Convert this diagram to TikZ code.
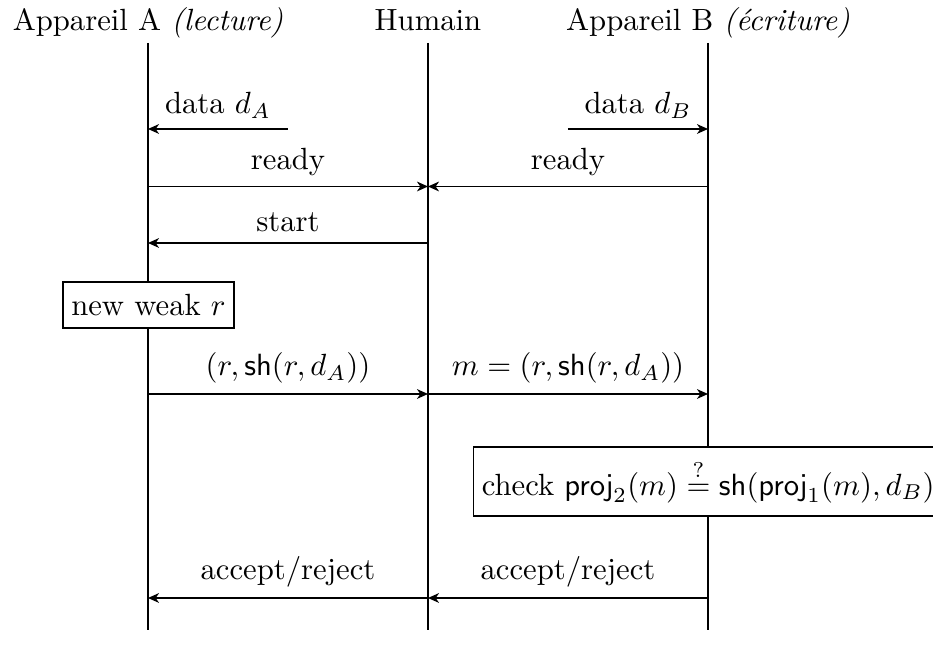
\documentclass[tikz,border=0pt]{standalone}
\usetikzlibrary{arrows.meta}
\begin{document}
\begin{tikzpicture}[x=0.326pt,y=-0.326pt,
  msg/.style={-{Stealth[length=3.6pt,width=3.2pt,inset=1.1pt]}},
  lbl/.style={above=0pt},
  actbox/.style={draw,fill=white,inner xsep=2.7pt},
  head/.style={inner sep=0pt,anchor=base}]
\useasboundingbox (0,0) rectangle (933,646);
% headers
\node[head] (hA) at (148,31) {Appareil A \textit{(lecture)}};
\node[head] (hH) at (428,31) {Humain};
\node[head] (hB) at (708,31) {Appareil B \textit{(\'ecriture)}};
% lifelines
\coordinate (A0) at (148,43); \coordinate (A1) at (148,630);
\coordinate (H0) at (428,43); \coordinate (H1) at (428,630);
\coordinate (B0) at (708,43); \coordinate (B1) at (708,630);
\draw (A0) -- (A1);
\draw (H0) -- (H1);
\draw (B0) -- (B1);
% data
\coordinate (dAs) at (288,129); \coordinate (dAe) at (148,129);
\coordinate (dBs) at (568,129); \coordinate (dBe) at (708,129);
\draw[msg] (dAs) -- node[lbl] {data $d_A$} (dAe);
\draw[msg] (dBs) -- node[lbl] {data $d_B$} (dBe);
% ready
\coordinate (Ar) at (148,186.5); \coordinate (Hr) at (428,186.5); \coordinate (Br) at (708,186.5);
\draw[msg] (Ar) -- node[lbl] {ready} (Hr);
\draw[msg] (Br) -- node[lbl] {ready} (Hr);
% start
\coordinate (As) at (148,243); \coordinate (Hs) at (428,243);
\draw[msg] (Hs) -- node[lbl] {start} (As);
% new weak r
\node[actbox,minimum height=15pt] (nw) at (148.5,305) {new weak $r$};
% message m
\coordinate (Am) at (148,394); \coordinate (Hm) at (428,394); \coordinate (Bm) at (708,394);
\draw[msg] (Am) -- node[lbl] {$(r,\mathsf{sh}(r,d_A))$} (Hm);
\draw[msg] (Hm) -- node[lbl] {$m=(r,\mathsf{sh}(r,d_A))$} (Bm);
% check
\node[actbox,minimum height=22.5pt,anchor=west] (ck) at (473,481.5) {check $\mathsf{proj}_2(m)\stackrel{?}{=}\mathsf{sh}(\mathsf{proj}_1(m),d_B)$};
% accept/reject
\coordinate (Aa) at (148,598); \coordinate (Ha) at (428,598); \coordinate (Ba) at (708,598);
\draw[msg] (Ha) -- node[lbl] {accept/reject} (Aa);
\draw[msg] (Ba) -- node[lbl] {accept/reject} (Ha);
\end{tikzpicture}
\end{document}
